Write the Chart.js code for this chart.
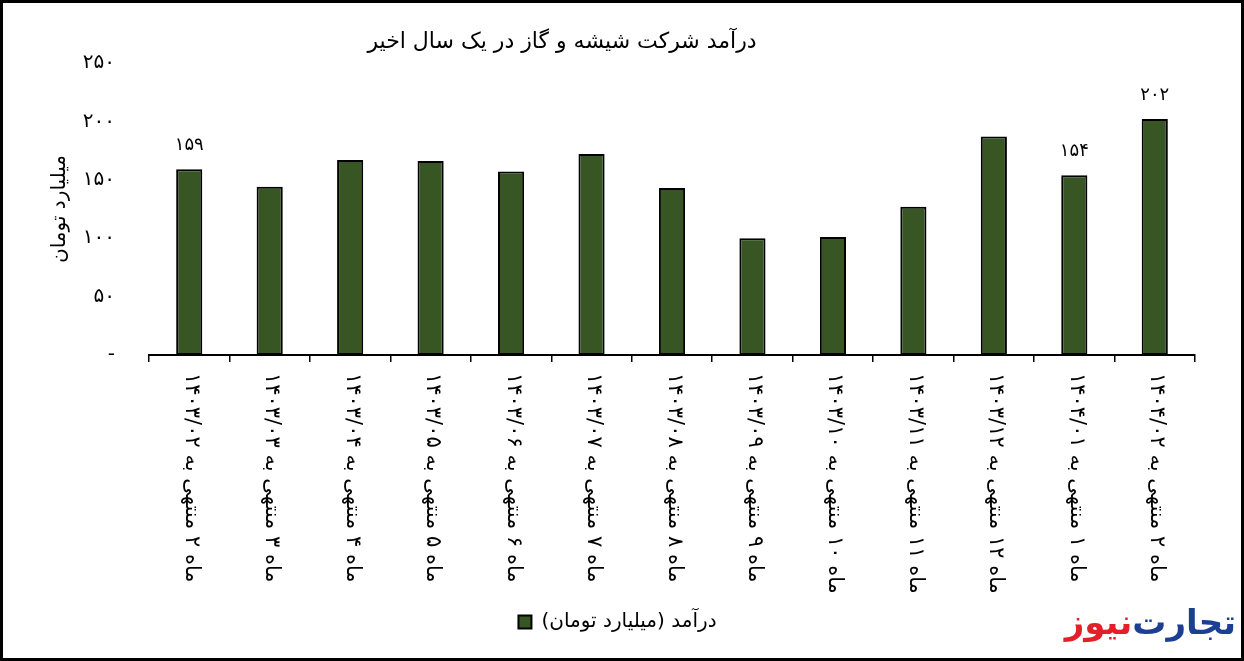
<!DOCTYPE html>
<html>
<head>
<meta charset="utf-8">
<title>revenue</title>
<script src="https://cdn.jsdelivr.net/npm/chart.js@4.4.1/dist/chart.umd.min.js"></script>
<style>
    body { margin: 0; background: #fff; }
    #wrap { width: 1244px; height: 661px; }
</style>
</head>
<body>
<div id="wrap"><canvas id="teh_canvas" width="1244" height="661"></canvas></div>
<script>
var chartTitle = 'درآمد شرکت شیشه و گاز در یک سال اخیر';
var seriesName = 'درآمد (میلیارد تومان)';
var axisTitle = 'میلیارد تومان';

var categories = [
    'ماه ۲ منتهی به ۱۴۰۳/۰۲',
    'ماه ۳ منتهی به ۱۴۰۳/۰۳',
    'ماه ۴ منتهی به ۱۴۰۳/۰۴',
    'ماه ۵ منتهی به ۱۴۰۳/۰۵',
    'ماه ۶ منتهی به ۱۴۰۳/۰۶',
    'ماه ۷ منتهی به ۱۴۰۳/۰۷',
    'ماه ۸ منتهی به ۱۴۰۳/۰۸',
    'ماه ۹ منتهی به ۱۴۰۳/۰۹',
    'ماه ۱۰ منتهی به ۱۴۰۳/۱۰',
    'ماه ۱۱ منتهی به ۱۴۰۳/۱۱',
    'ماه ۱۲ منتهی به ۱۴۰۳/۱۲',
    'ماه ۱ منتهی به ۱۴۰۴/۰۱',
    'ماه ۲ منتهی به ۱۴۰۴/۰۲'
];
var revenue = [159, 144, 167, 166, 157, 172, 143, 100, 101, 127, 187, 154, 202];
// only these bars carry a value label in the original
var labeledBars = [0, 11, 12];
var yMax = 250;
var yStep = 50;

var FONT = '"DejaVu Sans", sans-serif';

function faNum(n) {
    return String(n).replace(/\d/g, function(d) { return '۰۱۲۳۴۵۶۷۸۹'[d]; });
}

// title, rotated category labels, value labels, frame and logo
var decorPlugin = {
    id: 'decor',
    afterDatasetsDraw: function(chart) {
        var ctx = chart.ctx;
        var meta = chart.getDatasetMeta(0);
        ctx.save();
        ctx.fillStyle = '#000';
        ctx.font = '18px ' + FONT;
        ctx.textAlign = 'center';
        ctx.textBaseline = 'middle';
        labeledBars.forEach(function(i) {
            var bar = meta.data[i];
            ctx.fillText(faNum(revenue[i]), bar.x, bar.y - 24);
        });
        ctx.restore();
    },
    afterDraw: function(chart) {
        var ctx = chart.ctx;
        var xScale = chart.scales.x;

        ctx.save();
        ctx.fillStyle = '#000';
        ctx.direction = 'rtl';
        ctx.font = '22px ' + FONT;
        ctx.textAlign = 'center';
        ctx.textBaseline = 'middle';
        ctx.fillText(chartTitle, 562, 42);

        // category labels read top to bottom (rotated clockwise)
        ctx.font = '21px ' + FONT;
        ctx.textBaseline = 'middle';
        categories.forEach(function(lbl, i) {
            var x = xScale.getPixelForTick(i) + 2;
            ctx.save();
            ctx.translate(x, chart.chartArea.bottom + 18);
            ctx.rotate(Math.PI / 2);
            ctx.textAlign = 'left';
            ctx.fillText(lbl, 0, 0);
            ctx.restore();
        });

        // logo
        ctx.font = 'bold 34px ' + FONT;
        ctx.textAlign = 'right';
        ctx.textBaseline = 'alphabetic';
        ctx.fillStyle = '#1c3f94';
        ctx.fillText('تجارت', 1236, 634);
        var w = ctx.measureText('تجارت').width;
        ctx.fillStyle = '#e3202a';
        ctx.fillText('نیوز', 1236 - w, 634);

        ctx.strokeStyle = '#000';
        ctx.lineWidth = 3;
        ctx.strokeRect(1.5, 1.5, 1241, 658);
        ctx.restore();
    }
};

var chart = new Chart(document.getElementById('teh_canvas'), {
    type: 'bar',
    data: {
        labels: categories,
        datasets: [{
            label: seriesName,
            data: revenue,
            backgroundColor: '#375623',
            borderColor: '#000',
            borderWidth: 2,
            borderSkipped: false,
            categoryPercentage: 1,
            barPercentage: 0.325
        }]
    },
    options: {
        responsive: false,
        animation: false,
        layout: {
            padding: { top: 63, bottom: 19, left: 40, right: 49 }
        },
        scales: {
            x: {
                ticks: { display: false },
                grid: {
                    display: true,
                    drawOnChartArea: false,
                    drawTicks: true,
                    tickLength: 7,
                    color: '#000',
                    lineWidth: 1.5,
                    offset: true
                },
                border: { display: true, color: '#000', width: 2 },
                afterFit: function(scale) { scale.height = 247; }
            },
            y: {
                min: 0,
                max: yMax,
                ticks: {
                    stepSize: yStep,
                    padding: 26,
                    color: '#000',
                    font: { size: 20, family: FONT },
                    callback: function(v) { return v === 0 ? '-' : faNum(v); }
                },
                grid: { display: false },
                border: { display: false },
                title: {
                    display: true,
                    text: axisTitle,
                    color: '#000',
                    font: { size: 20, family: FONT },
                    padding: { top: 8, bottom: 0 }
                },
                afterFit: function(scale) { scale.width = 109; }
            }
        },
        plugins: {
            title: { display: false },
            tooltip: { enabled: false },
            legend: {
                position: 'bottom',
                textDirection: 'rtl',
                labels: {
                    boxWidth: 13,
                    boxHeight: 13,
                    color: '#000',
                    font: { size: 20, family: FONT }
                }
            }
        }
    },
    plugins: [decorPlugin]
});
</script>
</body>
</html>
